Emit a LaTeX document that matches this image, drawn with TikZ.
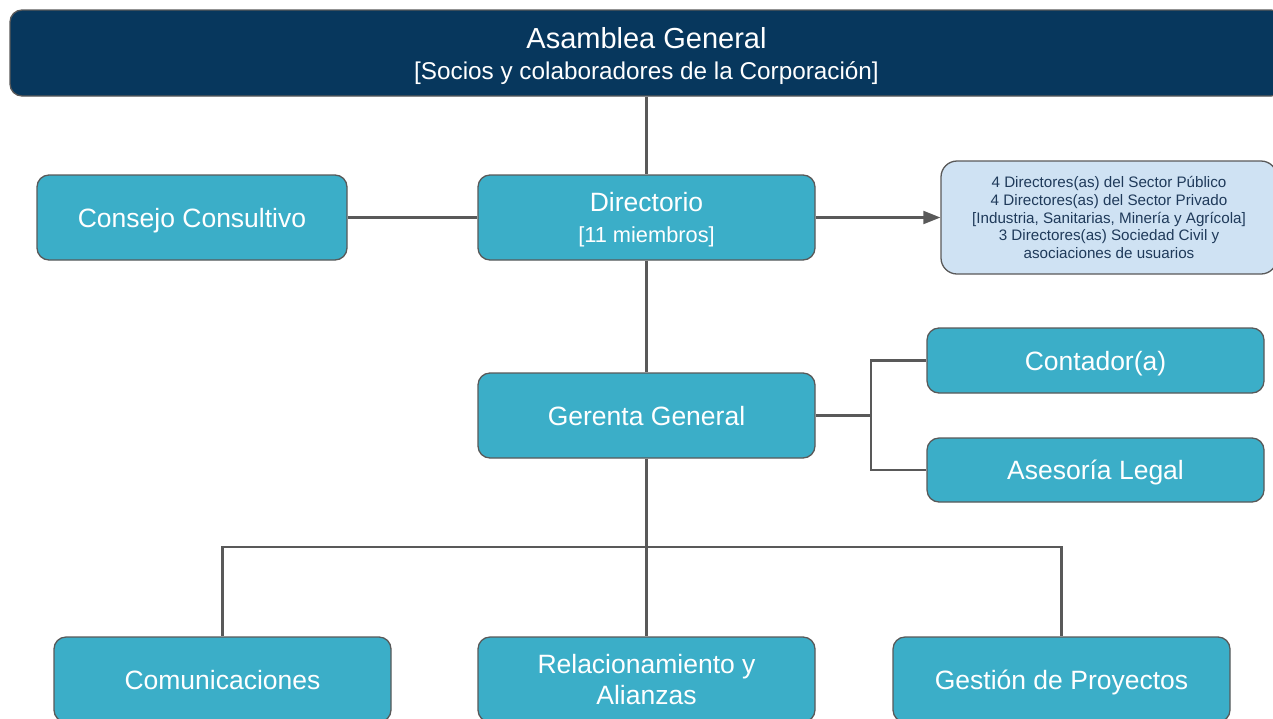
\documentclass[tikz,border=0pt]{standalone}
\usepackage{fontspec}
\setmainfont{Liberation Sans}
\usetikzlibrary{arrows.meta}
\definecolor{navy}{HTML}{07375D}
\definecolor{teal}{HTML}{3BAEC8}
\definecolor{paleblue}{HTML}{CFE2F3}
\definecolor{edge}{HTML}{595959}
\definecolor{infotext}{HTML}{1F3A5A}
\tikzset{
  unitbox/.style={draw=edge, line width=1.3pt, rounded corners=12pt, align=center,
    inner sep=0pt},
  tealbox/.style={unitbox, fill=teal, text=white, text depth=0pt,
    font=\fontsize{26.5}{31}\selectfont},
  headbox/.style={unitbox, fill=navy, text=white, text depth=-4pt,
    font=\fontsize{29}{31}\selectfont},
  infobox/.style={unitbox, fill=paleblue, text=infotext, rounded corners=16pt,
    font=\fontsize{15.2}{17.8}\selectfont},
  link/.style={draw=edge, line width=2.1pt},
}
\begin{document}
\begin{tikzpicture}[x=1pt, y=-1pt]
\useasboundingbox (0,0) rectangle (1273,718);

% top level
\node[headbox, minimum width=1273pt, minimum height=86pt] (asm) at (646.5,53)
  {Asamblea General\\
   {\fontsize{24.3}{31}\selectfont [Socios y colaboradores de la Corporación]}};

% board row
\node[tealbox, minimum width=310pt, minimum height=85pt] (cons) at (192,217.5) {Consejo Consultivo};
\node[tealbox, minimum width=337pt, minimum height=85pt, text depth=-4pt] (dir) at (646.5,217.5)
  {Directorio\\{\fontsize{21.8}{31}\selectfont [11 miembros]}};
\node[infobox, minimum width=336pt, minimum height=113pt] (info) at (1109,217.5)
  {4 Directores(as) del Sector Público\\
   4 Directores(as) del Sector Privado\\
   {[Industria, Sanitarias, Minería y Agrícola]}\\
   3 Directores(as) Sociedad Civil y\\
   asociaciones de usuarios};

% management
\node[tealbox, minimum width=337pt, minimum height=85pt] (ger) at (646.5,415.5) {Gerenta General};
\node[tealbox, minimum width=337pt, minimum height=65pt] (cont) at (1095.5,360.5) {Contador(a)};
\node[tealbox, minimum width=337pt, minimum height=64pt] (ases) at (1095.5,470) {Asesoría Legal};

% departments
\node[tealbox, minimum width=337pt, minimum height=85pt] (com) at (222.5,679.5) {Comunicaciones};
\node[tealbox, minimum width=337pt, minimum height=85pt] (rel) at (646.5,679.5)
  {Relacionamiento y\\Alianzas};
\node[tealbox, minimum width=337pt, minimum height=85pt] (ges) at (1061.5,679.5) {Gestión de Proyectos};

% junctions
\coordinate (side) at (871,415.5);
\coordinate (bus) at (646.5,547);

% connectors
\draw[link] (asm.south) -- (dir.north);
\draw[link] (dir.west) -- (cons.east);
\draw[link, -{Triangle[length=17pt, width=13pt]}] (dir.east) -- (info.west);
\draw[link] (dir.south) -- (ger.north);
\draw[link] (ger.east) -- (side);
\draw[link] (side) |- (cont.west);
\draw[link] (side) |- (ases.west);
\draw[link] (ger.south) -- (bus);
\draw[link] (bus) -| (com.north);
\draw[link] (bus) -| (ges.north);
\draw[link] (bus) -- (rel.north);
\end{tikzpicture}
\end{document}
